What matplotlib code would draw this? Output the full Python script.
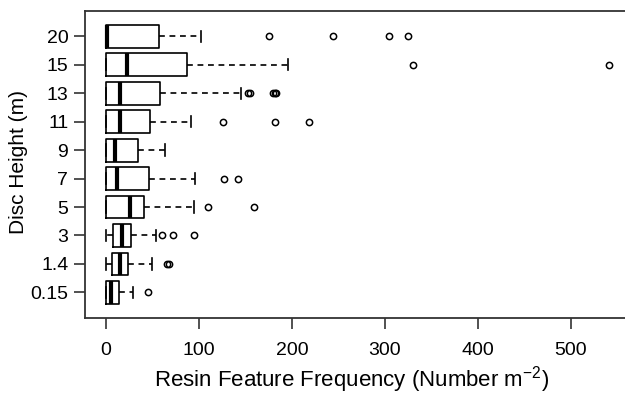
import matplotlib
matplotlib.use("Agg")
import matplotlib.pyplot as plt
from matplotlib import font_manager

fams = [f.name for f in font_manager.fontManager.ttflist]
fam = ['Liberation Sans Narrow'] if 'Liberation Sans Narrow' in fams else ['Liberation Sans']
plt.rcParams['font.family'] = fam + ['DejaVu Sans']

heights = ["0.15", "1.4", "3", "5", "7", "9", "11", "13", "15", "20"]
whislo = [0, 0, 0, 0, 0, 0, 0, 0, 0, 0]
q1 = [0, 6, 7, 0, 0, 0, 0, 0, 0, 0]
med = [5, 15, 17, 26, 11.5, 10, 15, 15, 23, 1]
q3 = [14.3, 24, 27, 41, 46.6, 34, 47, 58, 86.7, 56.6]
whishi = [29.4, 50, 54, 94.6, 95.7, 63.4, 91, 145, 196, 102]
fliers = [
    [44.8],
    [66, 68],
    [60, 71.7, 94.6],
    [110, 159],
    [127, 142],
    [],
    [125.4, 181.7, 218],
    [153, 154.5, 180, 182, 183],
    [330, 541],
    [175.6, 244.5, 304, 325],
]

stats = []
for i in range(len(heights)):
    stats.append(dict(label=heights[i], whislo=whislo[i], q1=q1[i], med=med[i],
                      q3=q3[i], whishi=whishi[i], fliers=fliers[i]))

fig = plt.figure(figsize=(6.25, 3.97), dpi=100)
ax = fig.add_axes([85/625, (397-318)/397, (631-85)/625, (318-10.7)/397])

ax.bxp(stats, vert=False, widths=0.8, showfliers=True, patch_artist=False,
       boxprops=dict(color='black', linewidth=1.2),
       medianprops=dict(color='black', linewidth=3.0, solid_capstyle='butt'),
       whiskerprops=dict(color='black', linewidth=1.2, linestyle=(0, (3.5, 2.8))),
       capprops=dict(color='black', linewidth=1.2),
       capwidths=0.4,
       flierprops=dict(marker='o', markersize=4.5, markerfacecolor='none',
                       markeredgecolor='black', markeredgewidth=1.1, linestyle='none'))

ax.set_xlim(-22.6, 564.7)
ax.set_ylim(0.1, 10.9)
ax.set_xticks([0, 100, 200, 300, 400, 500])
ax.set_yticks(range(1, 11))
ax.set_yticklabels(heights)
for s in ax.spines.values():
    s.set_linewidth(1.3)
    s.set_color('#333333')
ax.tick_params(axis='both', length=8, width=1.2, color='#333333', labelsize=14, pad=4)
ax.tick_params(axis='x', pad=9)
ax.set_xlabel('Resin Feature Frequency (Number m$^{\\mathregular{-2}}$)', fontsize=16)
ax.xaxis.set_label_coords((352 - 85) / 546, (318 - 380) / 307.3)
ax.xaxis.label.set_va('center')
ax.set_ylabel('Disc Height (m)', fontsize=15)
ax.yaxis.set_label_coords((18.5 - 85) / 546, (318 - 162) / 307.3)
ax.yaxis.label.set_va('center')

fig.savefig('out.png', dpi=100)
